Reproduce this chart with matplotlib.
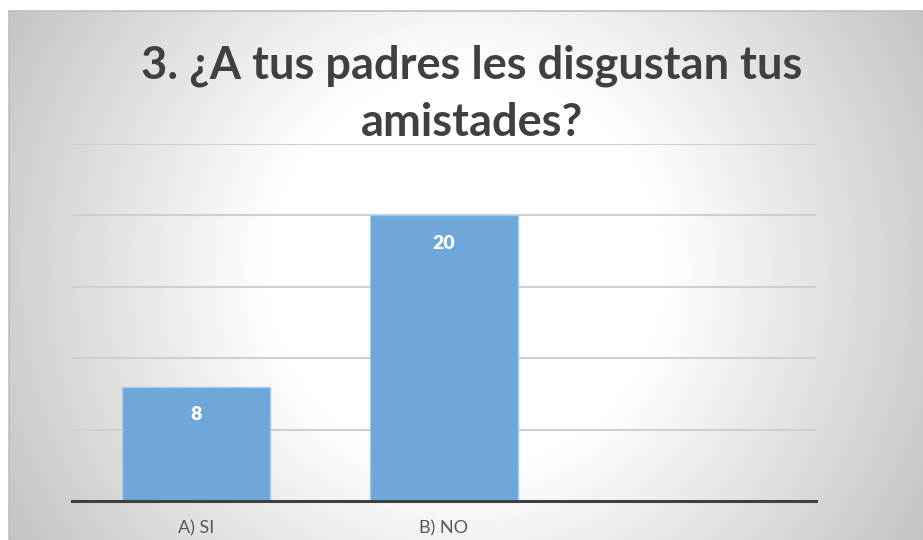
import numpy as np
import matplotlib
matplotlib.use('Agg')
import matplotlib.pyplot as plt

categories = ['A) SI', 'B) NO']
values = [8, 20]
n_slots = 3  # the chart keeps room for a third, empty category
title = '3. ¿A tus padres les disgustan tus\namistades?'

plt.rcParams['font.family'] = ['Lato', 'DejaVu Sans']

W, H = 923, 540
fig = plt.figure(figsize=(W / 100, H / 100), dpi=100)
fig.patch.set_facecolor('white')

# radial gradient background of the chart area
x0, y0 = 9, 11
bg = fig.add_axes([x0 / W, 0, 1 - x0 / W, (H - y0) / H])
xx, yy = np.meshgrid(np.arange(x0, W), np.arange(y0, H))
r = np.hypot(xx - 466, yy - 270)
grey = np.clip(255 - 0.18 * np.clip(r - 200, 0, None), 0, 255) / 255
bg.imshow(np.dstack([grey, grey, grey]), aspect='auto', interpolation='bilinear')
bg.set_xticks([])
bg.set_yticks([])
for s in ['right', 'bottom']:
    bg.spines[s].set_visible(False)
for s in ['top', 'left']:
    bg.spines[s].set_color('#BFBFBF')
    bg.spines[s].set_linewidth(1.2)

ax = fig.add_axes([72 / W, (H - 501) / H, 744 / W, (501 - 144) / H])
ax.patch.set_alpha(0)
x = np.arange(len(categories))
bars = ax.bar(x, values, width=0.6, color='#70A7DA', edgecolor='#A8CAEA', lw=1, zorder=3)
ax.set_xlim(-0.5, n_slots - 0.5)
ax.set_ylim(0, 25)
ax.set_yticks([5, 10, 15, 20, 25])
ax.yaxis.grid(True, color='#CFCFCF', lw=1.5, zorder=0)
ax.tick_params(axis='y', left=False, labelleft=False)
ax.set_xticks(x)
ax.set_xticklabels(categories, fontsize=13, color='#595959')
ax.tick_params(axis='x', length=0, pad=14)
for s in ['top', 'right', 'left']:
    ax.spines[s].set_visible(False)
ax.spines['bottom'].set_color('#404040')
ax.spines['bottom'].set_linewidth(2.2)
ax.spines['bottom'].set_zorder(4)

for b, v in zip(bars, values):
    ax.annotate(str(v), (b.get_x() + b.get_width() / 2, v), xytext=(0, -20),
                textcoords='offset points', ha='center', va='center',
                color='white', fontsize=14, fontweight='heavy', zorder=5)

fig.text(472 / W, 1 - 94 / H, title, ha='center', va='center', fontsize=32.5,
         fontweight='bold', color='#404040', linespacing=1.45)

fig.savefig('out.png', dpi=100)
